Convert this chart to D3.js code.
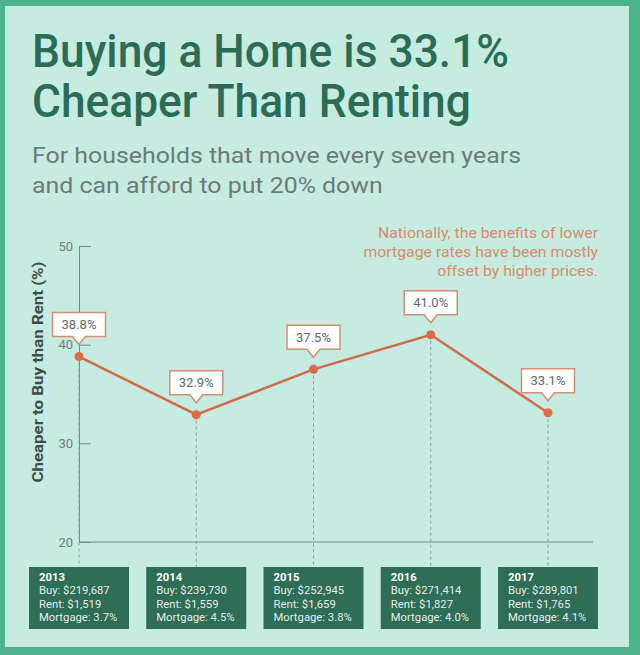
<!DOCTYPE html>
<html>
<head>
<meta charset="utf-8">
<script src="https://cdn.jsdelivr.net/npm/d3@7"></script>
<style>
  html, body { margin: 0; padding: 0; background: #4db38c; }
  svg { display: block; }
  text { font-family: Roboto, "Noto Sans", sans-serif; }
</style>
</head>
<body>
<svg id="chart" width="640" height="655"></svg>
<script>
// ---- data ----
const years = ["2013", "2014", "2015", "2016", "2017"];
const cheaperPct = [38.8, 32.9, 37.5, 41.0, 33.1];
const buyPrice = ["$219,687", "$239,730", "$252,945", "$271,414", "$289,801"];
const rentPrice = ["$1,519", "$1,559", "$1,659", "$1,827", "$1,765"];
const mortgageRate = ["3.7%", "4.5%", "3.8%", "4.0%", "4.1%"];
const yTicks = [20, 30, 40, 50];
const titleLines = ["Buying a Home is 33.1%", "Cheaper Than Renting"];
const subtitleLines = ["For households that move every seven years", "and can afford to put 20% down"];
const noteLines = ["Nationally, the benefits of lower", "mortgage rates have been mostly", "offset by higher prices."];
const yLabel = "Cheaper to Buy than Rent (%)";

// ---- setup ----
const svg = d3.select("#chart");
const W = 640, H = 655;
const C = {
  border: "#4db38c", bg: "#c6ebe0", title: "#2c6c55", sub: "#6c7b76",
  line: "#cf6b48", dot: "#de6b47", labelStroke: "#d49070", labelText: "#5d6a67",
  axis: "#6f8c82", tick: "#6f7f79", note: "#d98b68", box: "#2e6d56", ylab: "#3f4b48",
  dash: "#8a9a94"
};

svg.append("rect").attr("width", W).attr("height", H).attr("fill", C.border);
svg.append("rect").attr("x", 5).attr("y", 6).attr("width", 624).attr("height", 641).attr("fill", C.bg);

// fit helpers: compress text horizontally
function fit(sel, target) {
  sel.each(function () {
    const w = this.getComputedTextLength();
    if (w > 0) d3.select(this).attr("textLength", target).attr("lengthAdjust", "spacingAndGlyphs");
  });
}
function squeeze(sel, k) {
  sel.each(function () {
    const w = this.getComputedTextLength();
    if (w > 0) d3.select(this).attr("textLength", w * k).attr("lengthAdjust", "spacingAndGlyphs");
  });
}

// ---- title ----
const t1 = svg.append("text").attr("x", 32).attr("y", 67).attr("font-size", 47).attr("font-weight", 500)
  .attr("fill", C.title).text(titleLines[0]);
const titleK = 477 / t1.node().getComputedTextLength();
fit(t1, 477);
const t2 = svg.append("text").attr("x", 32).attr("y", 117).attr("font-size", 47).attr("font-weight", 500)
  .attr("fill", C.title).text(titleLines[1]);
squeeze(t2, titleK);

const s1 = svg.append("text").attr("x", 32).attr("y", 163).attr("font-size", 22.5)
  .attr("fill", C.sub).text(subtitleLines[0]);
const subK = 489 / s1.node().getComputedTextLength();
fit(s1, 489);
const s2 = svg.append("text").attr("x", 32).attr("y", 193).attr("font-size", 22.5)
  .attr("fill", C.sub).text(subtitleLines[1]);
squeeze(s2, subK);

// ---- scales ----
const y = d3.scaleLinear().domain([20, 50]).range([542, 246]);
const x = d3.scalePoint().domain(years).range([79, 548]);
const data = years.map((yr, i) => ({ yr, v: cheaperPct[i], buy: buyPrice[i], rent: rentPrice[i], mort: mortgageRate[i] }));

// ---- note ----
const note = svg.append("g").attr("fill", C.note).attr("font-size", 15).attr("text-anchor", "end");
const n0 = note.append("text").attr("x", 598).attr("y", 238).text(noteLines[0]);
const noteK = 220 / n0.node().getComputedTextLength();
fit(n0, 220);
noteLines.slice(1).forEach((s, i) => {
  const t = note.append("text").attr("x", 598).attr("y", 257 + i * 19).text(s);
  squeeze(t, noteK);
});

// ---- y axis ----
const yAxis = svg.append("g").attr("transform", `translate(${x(years[0])},0)`)
  .call(d3.axisLeft(y).tickValues(yTicks).tickSizeInner(-12).tickSizeOuter(0).tickPadding(6).tickFormat(d3.format("d")));
yAxis.select(".domain").attr("stroke", C.axis).attr("stroke-width", 1);
yAxis.selectAll(".tick line").attr("stroke", C.axis);
yAxis.selectAll(".tick text").attr("fill", C.tick).attr("font-size", 13)
  .attr("font-family", "Roboto, sans-serif");

// baseline (x axis)
svg.append("line")
  .attr("x1", x.range()[0]).attr("x2", x.range()[1] + 45)
  .attr("y1", y(20)).attr("y2", y(20))
  .attr("stroke", C.axis).attr("stroke-width", 1.2);

// y label
const yl = svg.append("text")
  .attr("transform", `translate(43,372) rotate(-90)`)
  .attr("text-anchor", "middle").attr("font-size", 15).attr("font-weight", 700)
  .attr("fill", C.ylab).text(yLabel);
fit(yl, 221);

// ---- year boxes ----
const boxTop = 567, boxH = 62, boxW = 100;

// dashed drop lines
svg.append("g").selectAll("line").data(data).join("line")
  .attr("x1", d => x(d.yr)).attr("x2", d => x(d.yr))
  .attr("y1", d => y(d.v)).attr("y2", boxTop)
  .attr("stroke", C.dash).attr("stroke-width", 1).attr("stroke-dasharray", "3,3");

// line
svg.append("path").datum(data)
  .attr("fill", "none").attr("stroke", C.line).attr("stroke-width", 2.5)
  .attr("d", d3.line().x(d => x(d.yr)).y(d => y(d.v)));

svg.append("g").selectAll("circle").data(data).join("circle")
  .attr("cx", d => x(d.yr)).attr("cy", d => y(d.v)).attr("r", 4.5).attr("fill", C.dot);

// callout labels
const lbl = svg.append("g").selectAll("g").data(data).join("g")
  .attr("transform", d => `translate(${x(d.yr)},${y(d.v)})`);
const bw = 53, bh = 24, gap = 20, tip = 12, tw = 6.5;
lbl.append("path")
  .attr("d", `M${-bw / 2},${-gap - bh} H${bw / 2} V${-gap} H${tw} L0,${-tip} L${-tw},${-gap} H${-bw / 2} Z`)
  .attr("fill", "#ffffff").attr("stroke", C.labelStroke).attr("stroke-width", 1.5);
lbl.append("text").attr("text-anchor", "middle").attr("y", -gap - 7.5)
  .attr("font-size", 13).attr("fill", C.labelText)
  .text(d => d.v.toFixed(1) + "%");

// boxes
const boxes = svg.append("g").selectAll("g").data(data).join("g")
  .attr("transform", d => `translate(${x(d.yr) - boxW / 2},${boxTop})`);
boxes.append("rect").attr("width", boxW).attr("height", boxH).attr("fill", C.box);
const lines = d => [d.yr, "Buy: " + d.buy, "Rent: " + d.rent, "Mortgage: " + d.mort];
boxes.each(function (d) {
  const g = d3.select(this);
  lines(d).forEach((s, i) => {
    const t = g.append("text").attr("x", 10).attr("y", 14 + i * 13.4)
      .attr("font-size", 11.5).attr("fill", "#ffffff")
      .attr("font-weight", i === 0 ? 700 : 400)
      .attr("fill-opacity", i === 0 ? 1 : 0.9)
      .text(s);
    squeeze(t, 0.98);
  });
});
</script>
</body>
</html>
